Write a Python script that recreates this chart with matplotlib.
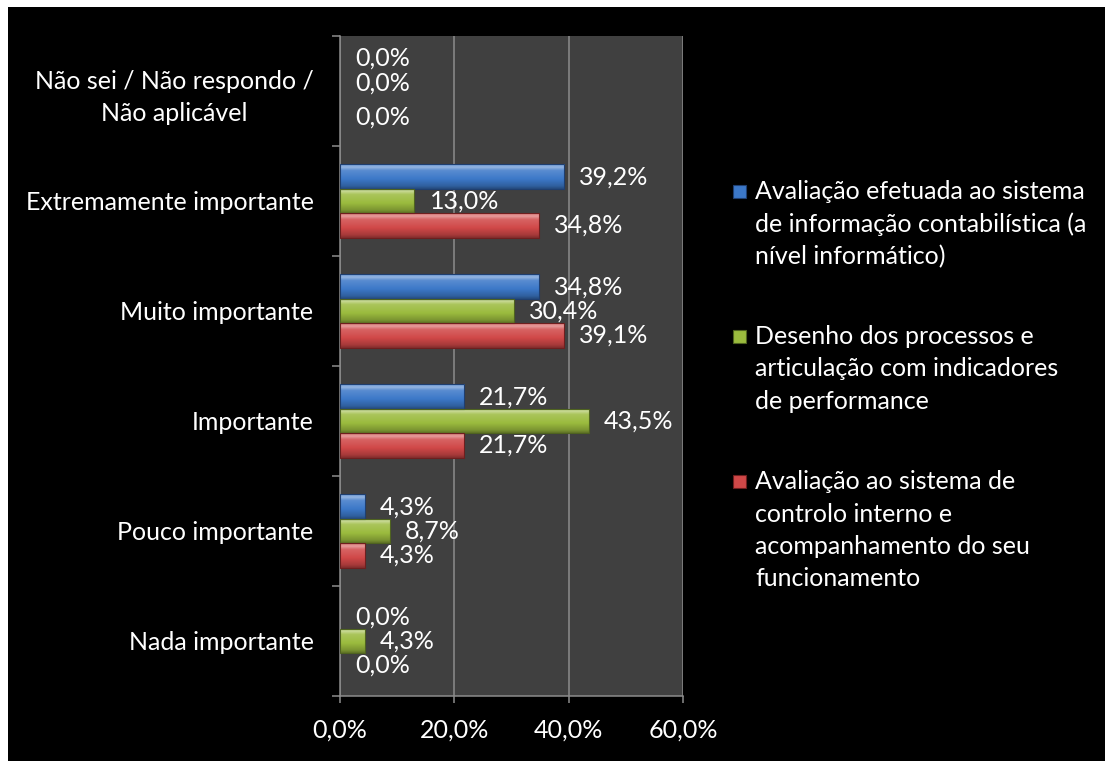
import matplotlib
matplotlib.use('Agg')
import matplotlib.pyplot as plt
import numpy as np
from matplotlib.patches import Rectangle
import matplotlib.colors as mcolors

# ---------------- data ----------------
categories = ['Nada importante', 'Pouco importante', 'Importante',
              'Muito importante', 'Extremamente importante',
              'Não sei / Não respondo /\nNão aplicável']
series_names = ['Avaliação efetuada ao sistema\nde informação contabilística (a\nnível informático)',
                'Desenho dos processos e\narticulação com indicadores\nde performance',
                'Avaliação ao sistema de\ncontrolo interno e\nacompanhamento do seu\nfuncionamento']
blue_vals = [0.0, 4.3, 21.7, 34.8, 39.2, 0.0]
green_vals = [4.3, 8.7, 43.5, 30.4, 13.0, 0.0]
red_vals = [0.0, 4.3, 21.7, 39.1, 34.8, 0.0]
xticks = [0, 20, 40, 60]

# ---------------- style ----------------
W, H = 1105, 761
FONT = ['Lato', 'DejaVu Sans']
FS = 18
colors = ['#3c78c8', '#9bbb3e', '#d04848']
edge_colors = ['#1f3f70', '#4f6320', '#6e1f1f']
plt.rcParams['font.family'] = FONT

fig = plt.figure(figsize=(W / 100, H / 100), dpi=100)
fig.patch.set_facecolor('white')
fig.add_artist(Rectangle((8 / W, 0), 1, 1 - 7 / H, transform=fig.transFigure,
                         facecolor='black', edgecolor='none', zorder=-10))

ax = fig.add_axes([340 / W, 1 - 696 / H, (683 - 340) / W, (696 - 36) / H])
ax.set_facecolor('#404040')

y = np.arange(len(categories))
bh = 0.222
offsets = [bh, 0.0, -bh]
all_vals = [blue_vals, green_vals, red_vals]


def bevel(ax, rect, base):
    x0, y0 = rect.get_x(), rect.get_y()
    w, h = rect.get_width(), rect.get_height()
    if w <= 0:
        return
    b = np.array(mcolors.to_rgb(base))
    light = b + (1 - b) * 0.45
    dark = b * 0.62
    t = np.linspace(0, 1, 60)
    stops = [(0.0, dark), (0.12, b * 0.8), (0.4, b), (0.75, b + (1 - b) * 0.15),
             (0.88, light), (1.0, b + (1 - b) * 0.25)]
    arr = np.zeros((len(t), 1, 3))
    for i, tt in enumerate(t):
        for (t0, c0), (t1, c1) in zip(stops[:-1], stops[1:]):
            if t0 <= tt <= t1:
                f = (tt - t0) / (t1 - t0)
                arr[i, 0] = c0 * (1 - f) + c1 * f
                break
    im = ax.imshow(np.clip(arr, 0, 1), extent=[x0, x0 + w, y0, y0 + h],
                   origin='lower', aspect='auto', interpolation='bilinear', zorder=3)
    im.set_clip_path(rect)


# small vertical nudges (points) for labels that the original moved apart
label_nudge = {(5, 0): 6, (5, 1): 6, (5, 2): -1}

for si, vals in enumerate(all_vals):
    bars = ax.barh(y + offsets[si], vals, height=bh, color=colors[si],
                   edgecolor=edge_colors[si], linewidth=0.8, zorder=4)
    for ci, (rect, v) in enumerate(zip(bars, vals)):
        bevel(ax, rect, colors[si])
        rect.set_facecolor('none')
        if v == 0:
            rect.set_linewidth(0)
        ax.annotate(f"{v:.1f}%".replace('.', ','),
                    xy=(v, y[ci] + offsets[si]), xytext=(11, label_nudge.get((ci, si), 0)),
                    textcoords='offset points', ha='left', va='center',
                    color='white', fontsize=FS, zorder=6)

ax.set_xlim(0, 60)
ax.set_ylim(-0.5, len(categories) - 0.5)
ax.set_xticks(xticks)
ax.set_xticklabels([f"{v:.1f}%".replace('.', ',') for v in xticks])
ax.set_yticks(y)
ax.set_yticklabels(categories)
ax.set_yticks(np.arange(-0.5, len(categories), 1.0), minor=True)
for lab in ax.get_yticklabels():
    lab.set_multialignment('center')
    lab.set_linespacing(1.45)

ax.grid(axis='x', color='#8c8c8c', linewidth=1.1, zorder=1)
ax.set_axisbelow(True)
for s in ['top', 'right']:
    ax.spines[s].set_visible(False)
for s in ['left', 'bottom']:
    ax.spines[s].set_color('#8c8c8c')
    ax.spines[s].set_linewidth(1.1)

ax.tick_params(axis='y', which='major', length=0, pad=19, labelcolor='white', labelsize=FS)
ax.tick_params(axis='y', which='minor', length=6, width=1.1, color='#8c8c8c')
ax.tick_params(axis='x', which='major', length=5, width=1.1, color='#8c8c8c',
               pad=11, labelcolor='white', labelsize=FS)

# ---------------- legend ----------------
first_baselines = [199, 344, 489]
line_step = 32.5
for si, name in enumerate(series_names):
    lines = name.split('\n')
    yb = first_baselines[si]
    fig.add_artist(Rectangle((733 / W, 1 - (yb - 1) / H), 13 / W, 13 / H,
                             transform=fig.transFigure, facecolor=colors[si],
                             edgecolor=edge_colors[si], linewidth=0.8))
    for li, line in enumerate(lines):
        fig.text(755 / W, 1 - (yb + li * line_step) / H, line, color='white',
                 fontsize=FS, ha='left', va='baseline')

fig.savefig('out.png', dpi=100, facecolor=fig.get_facecolor())
